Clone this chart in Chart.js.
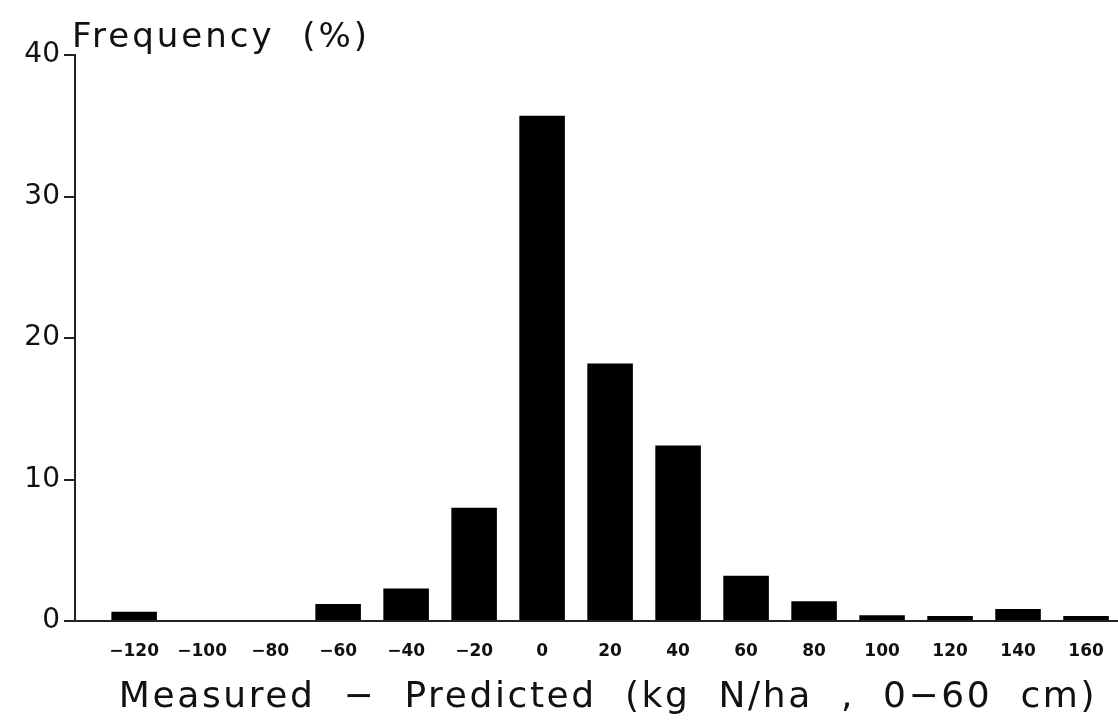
<!DOCTYPE html>
<html>
<head>
<meta charset="utf-8">
<script src="https://cdn.jsdelivr.net/npm/chart.js@4.4.0/dist/chart.umd.min.js"></script>
<style>
  html, body { margin: 0; padding: 0; background: #fff; }
  #wrap { width: 1118px; height: 724px; }
</style>
</head>
<body>
<div id="wrap"><canvas id="histChart" width="1118" height="724"></canvas></div>
<script>
// classes of Measured - Predicted (kg N/ha)
const classes = [-120, -100, -80, -60, -40, -20, 0, 20, 40, 60, 80, 100, 120, 140, 160];
const frequency = [0.65, 0, 0, 1.2, 2.3, 8.0, 35.7, 18.2, 12.4, 3.2, 1.4, 0.4, 0.35, 0.85, 0.35];
const yTicks = [0, 10, 20, 30, 40];

const fontFam = "'DejaVu Sans', 'Liberation Sans', sans-serif";

// axis titles drawn by hand (need letter spacing)
const titlesPlugin = {
  id: 'titles',
  afterDraw(chart) {
    const c = chart.ctx;
    c.save();
    c.fillStyle = '#111';
    c.textBaseline = 'alphabetic';
    c.font = '34px ' + fontFam;
    c.letterSpacing = '3px';
    c.textAlign = 'left';
    c.fillText('Frequency  (%)', chart.chartArea.left - 3, 47);
    c.font = '36px ' + fontFam;
    c.letterSpacing = '2.6px';
    c.textAlign = 'center';
    c.fillText('Measured  \u2212  Predicted  (kg  N/ha  ,  0\u221260  cm)', 608, 707);
    c.restore();
  }
};

const ctx = document.getElementById('histChart').getContext('2d');
const histChart = new Chart(ctx, {
  type: 'bar',
  data: {
    datasets: [{
      label: 'Frequency',
      data: classes.map((c, i) => ({ x: c, y: frequency[i] })),
      backgroundColor: '#000',
      borderWidth: 0,
      barPercentage: 0.67,
      categoryPercentage: 1
    }]
  },
  options: {
    responsive: false,
    animation: false,
    layout: { padding: { top: 55, right: 0, left: 0, bottom: 0 } },
    plugins: {
      legend: { display: false },
      tooltip: { enabled: false }
    },
    scales: {
      x: {
        type: 'linear',
        offset: false,
        min: -137.4,
        max: 169.4,
        afterBuildTicks: s => { s.ticks = classes.map(v => ({ value: v })); },
        afterFit: s => { s.height = 103; s.paddingRight = 0; },
        grid: { display: false, drawTicks: false },
        border: { display: true, color: '#222', width: 2 },
        ticks: {
          color: '#111',
          padding: 20,
          autoSkip: false,
          maxRotation: 0,
          font: { family: fontFam, size: 17, weight: 'bold' },
          callback: v => (v < 0 ? '\u2212' + Math.abs(v) : String(v))
        }
      },
      y: {
        min: 0,
        max: 40,
        afterBuildTicks: s => { s.ticks = yTicks.map(v => ({ value: v })); },
        afterFit: s => { s.width = 75; },
        grid: { drawOnChartArea: false, drawTicks: true, tickLength: 11, color: '#222', lineWidth: 2 },
        border: { display: true, color: '#222', width: 2 },
        ticks: {
          color: '#111',
          padding: 4,
          font: { family: fontFam, size: 28 }
        }
      }
    }
  },
  plugins: [titlesPlugin]
});
</script>
</body>
</html>
